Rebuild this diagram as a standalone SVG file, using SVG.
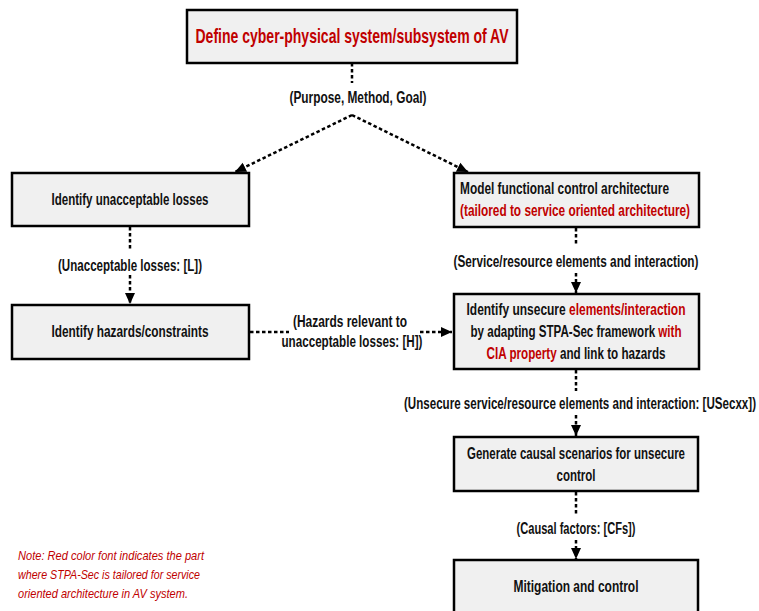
<svg xmlns="http://www.w3.org/2000/svg" width="759" height="611" viewBox="0 0 759 611">
  <style>
    .box { fill: #f0f0f0; stroke: #000; stroke-width: 2.5; }
    .t { font-family: "Liberation Sans Narrow", "Liberation Sans", Arial, sans-serif; font-weight: bold; font-size: 16px; fill: #111; }
    .red { fill: #c00000; }
    .title { font-size: 21px; }
    .note { font-family: "Liberation Sans", Arial, sans-serif; font-style: italic; font-size: 13.5px; fill: #c00000; }
    .conn { fill: none; stroke: #000; stroke-width: 2.5; stroke-dasharray: 3.5 2.5; }
  </style>
  <defs>
    <marker id="arrow" markerUnits="userSpaceOnUse" markerWidth="12" markerHeight="12" viewBox="0 0 12 12" refX="11" refY="6" orient="auto">
      <path d="M0,1 L11,6 L0,11 Z" fill="#000"/>
    </marker>
  </defs>

  <rect width="759" height="611" fill="#fff"/>

  <!-- connectors -->
  <g id="connectors">
    <path class="conn" d="M352,63 V83"/>
    <path class="conn" d="M352,115 L235,172" marker-end="url(#arrow)"/>
    <path class="conn" d="M352,115 L468,172" marker-end="url(#arrow)"/>
    <path class="conn" d="M130,227 V250 M130,275 V304" marker-end="url(#arrow)"/>
    <path class="conn" d="M576,228 V246 M576,273 V293" marker-end="url(#arrow)"/>
    <path class="conn" d="M250,332 H289 M420,332 H452" marker-end="url(#arrow)"/>
    <path class="conn" d="M576,370 V391 M576,415 V436" marker-end="url(#arrow)"/>
    <path class="conn" d="M576,492 V515 M576,540 V559" marker-end="url(#arrow)"/>
  </g>

  <!-- connector labels -->
  <g id="labels">
    <text class="t" x="358" y="103" text-anchor="middle" textLength="137" lengthAdjust="spacingAndGlyphs">(Purpose, Method, Goal)</text>
    <text class="t" x="130" y="271" text-anchor="middle" textLength="144" lengthAdjust="spacingAndGlyphs">(Unacceptable losses: [L])</text>
    <text class="t" x="576" y="267" text-anchor="middle" textLength="245" lengthAdjust="spacingAndGlyphs">(Service/resource elements and interaction)</text>
    <text class="t" x="350" y="327" text-anchor="middle" textLength="114" lengthAdjust="spacingAndGlyphs">(Hazards relevant to</text>
    <text class="t" x="352" y="347" text-anchor="middle" textLength="141" lengthAdjust="spacingAndGlyphs">unacceptable losses: [H])</text>
    <text class="t" x="580" y="409" text-anchor="middle" textLength="352" lengthAdjust="spacingAndGlyphs">(Unsecure service/resource elements and interaction: [USecxx])</text>
    <text class="t" x="576" y="534" text-anchor="middle" textLength="119" lengthAdjust="spacingAndGlyphs">(Causal factors: [CFs])</text>
  </g>

  <!-- nodes -->
  <g id="define-system">
    <rect class="box" x="187" y="10" width="330" height="53"/>
    <text class="t title red" x="352" y="43" text-anchor="middle" textLength="313" lengthAdjust="spacingAndGlyphs">Define cyber-physical system/subsystem of AV</text>
  </g>

  <g id="identify-losses">
    <rect class="box" x="12" y="173" width="237" height="53"/>
    <text class="t" x="130" y="205" text-anchor="middle" textLength="157" lengthAdjust="spacingAndGlyphs">Identify unacceptable losses</text>
  </g>

  <g id="identify-hazards">
    <rect class="box" x="12" y="305" width="237" height="54"/>
    <text class="t" x="130" y="337" text-anchor="middle" textLength="157" lengthAdjust="spacingAndGlyphs">Identify hazards/constraints</text>
  </g>

  <g id="model-architecture">
    <rect class="box" x="454" y="173" width="245" height="54"/>
    <text class="t" x="460" y="194" textLength="209" lengthAdjust="spacingAndGlyphs">Model functional control architecture</text>
    <text class="t red" x="460" y="216" textLength="230" lengthAdjust="spacingAndGlyphs">(tailored to service oriented architecture)</text>
  </g>

  <g id="identify-unsecure">
    <rect class="box" x="454" y="294" width="245" height="75"/>
    <text class="t" x="576" y="315" text-anchor="middle" textLength="219" lengthAdjust="spacingAndGlyphs">Identify unsecure <tspan class="red">elements/interaction</tspan></text>
    <text class="t" x="576" y="337" text-anchor="middle" textLength="211" lengthAdjust="spacingAndGlyphs">by adapting STPA-Sec framework <tspan class="red">with</tspan></text>
    <text class="t" x="576" y="359" text-anchor="middle" textLength="179" lengthAdjust="spacingAndGlyphs"><tspan class="red">CIA property</tspan> and link to hazards</text>
  </g>

  <g id="causal-scenarios">
    <rect class="box" x="454" y="437" width="244" height="54"/>
    <text class="t" x="576" y="459" text-anchor="middle" textLength="218" lengthAdjust="spacingAndGlyphs">Generate causal scenarios for unsecure</text>
    <text class="t" x="576" y="481" text-anchor="middle" textLength="39" lengthAdjust="spacingAndGlyphs">control</text>
  </g>

  <g id="mitigation">
    <rect class="box" x="454" y="560" width="244" height="60"/>
    <text class="t" x="576" y="592" text-anchor="middle" textLength="125" lengthAdjust="spacingAndGlyphs">Mitigation and control</text>
  </g>

  <!-- footnote -->
  <g id="note">
    <text class="note" x="18" y="560" textLength="186" lengthAdjust="spacingAndGlyphs">Note: Red color font indicates the part</text>
    <text class="note" x="18" y="579" textLength="182" lengthAdjust="spacingAndGlyphs">where STPA-Sec is tailored for service</text>
    <text class="note" x="18" y="598" textLength="170" lengthAdjust="spacingAndGlyphs">oriented architecture in AV system.</text>
  </g>
</svg>
